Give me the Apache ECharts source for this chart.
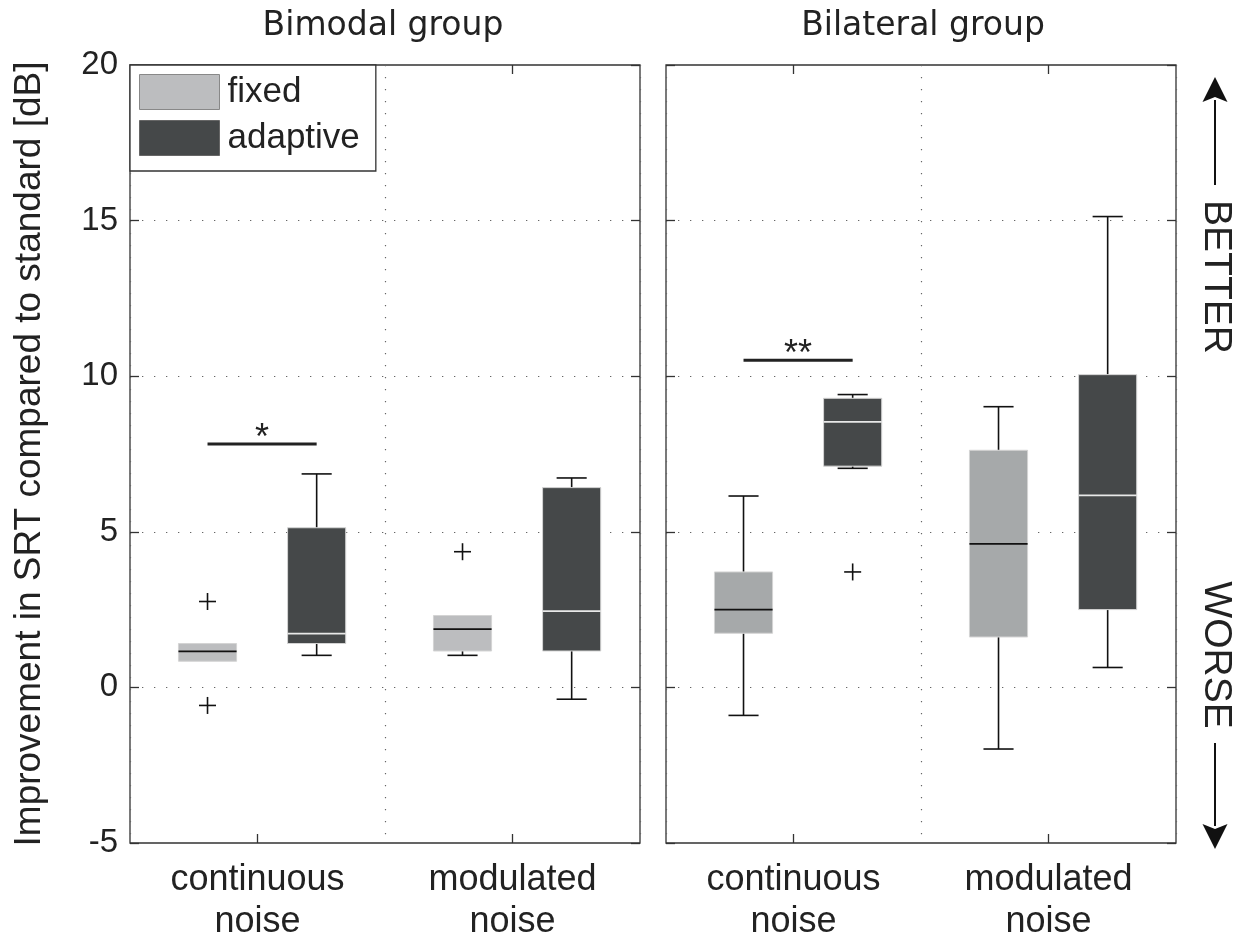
<!DOCTYPE html>
<html>
<head>
<meta charset="utf-8">
<script src="https://cdn.jsdelivr.net/npm/echarts@6/dist/echarts.min.js"></script>
<style>html,body{margin:0;padding:0;background:#fff}#c{width:1236px;height:943px}</style>
</head>
<body>
<div id="c"></div>
<script>
// ---- data ----
const categories = ['continuous\nnoise', 'modulated\nnoise'];
const groupTitles = ['Bimodal group', 'Bilateral group'];
const treatments = ['fixed', 'adaptive'];
const yTicks = [-5, 0, 5, 10, 15, 20];
// [min, q1, median, q3, max] per category
const bimodalFixed = [[0.84, 0.84, 1.16, 1.41, 1.41], [1.03, 1.17, 1.87, 2.31, 2.31]];
const bimodalAdaptive = [[1.03, 1.41, 1.73, 5.13, 6.86], [-0.38, 1.17, 2.45, 6.42, 6.73]];
const bilateralFixed = [[-0.90, 1.74, 2.50, 3.71, 6.15], [-1.98, 1.62, 4.61, 7.62, 9.02]];
const bilateralAdaptive = [[7.04, 7.11, 8.53, 9.29, 9.41], [0.64, 2.50, 6.17, 10.05, 15.13]];
// outliers: [category index, value]
const bimodalFixedOutliers = [[0, 2.76], [0, -0.58], [1, 4.36]];
const bimodalAdaptiveOutliers = [];
const bilateralFixedOutliers = [];
const bilateralAdaptiveOutliers = [[0, 3.71]];
// significance: level of bar, label (continuous noise, fixed vs adaptive)
const bimodalSignif = [7.82];
const bimodalSignifLabel = ['*'];
const bilateralSignif = [10.51];
const bilateralSignifLabel = ['**'];

// ---- style / layout ----
const GRID_TOP = 65, GRID_H = 782, GRID_W = 510;
const GRID_LEFTS = [130, 666];
const OFFSET = { fixed: -0.196, adaptive: 0.232 };
const BOX_W = 0.228;
const CAP_W = 0.118;
const COLORS = {
  fixedL: '#bcbdbf', fixedR: '#a6a9aa', adaptive: '#454849'
};
const FONT = '"Liberation Sans", Arial, sans-serif';

function boxRenderer(offset, fill, medianColor) {
  return function (params, api) {
    const x = api.value(0) + 0.5 + offset;
    const mn = api.value(1), q1 = api.value(2), md = api.value(3), q3 = api.value(4), mx = api.value(5);
    const pMin = api.coord([x, mn]), pQ1 = api.coord([x, q1]), pMd = api.coord([x, md]);
    const pQ3 = api.coord([x, q3]), pMax = api.coord([x, mx]);
    const bw = api.size([BOX_W, 0])[0];
    const cw = api.size([CAP_W, 0])[0];
    const cx = pMd[0];
    const lineStyle = { stroke: '#111', lineWidth: 1.6 };
    const ch = [];
    if (mx > q3) {
      ch.push({ type: 'line', shape: { x1: cx, y1: pQ3[1], x2: cx, y2: pMax[1] }, style: lineStyle });
      ch.push({ type: 'line', shape: { x1: cx - cw / 2, y1: pMax[1], x2: cx + cw / 2, y2: pMax[1] }, style: lineStyle });
    }
    if (mn < q1) {
      ch.push({ type: 'line', shape: { x1: cx, y1: pQ1[1], x2: cx, y2: pMin[1] }, style: lineStyle });
      ch.push({ type: 'line', shape: { x1: cx - cw / 2, y1: pMin[1], x2: cx + cw / 2, y2: pMin[1] }, style: lineStyle });
    }
    ch.push({ type: 'rect', shape: { x: cx - bw / 2, y: pQ3[1], width: bw, height: pQ1[1] - pQ3[1] },
      style: { fill: fill, stroke: '#d4d4d4', lineWidth: 1 } });
    ch.push({ type: 'line', shape: { x1: cx - bw / 2, y1: pMd[1], x2: cx + bw / 2, y2: pMd[1] },
      style: { stroke: medianColor, lineWidth: 1.8 } });
    return { type: 'group', children: ch };
  };
}

function outlierRenderer(offset) {
  return function (params, api) {
    const p = api.coord([api.value(0) + 0.5 + offset, api.value(1)]);
    const h = 8.5;
    return { type: 'group', children: [
      { type: 'line', shape: { x1: p[0] - h, y1: p[1], x2: p[0] + h, y2: p[1] }, style: { stroke: '#111', lineWidth: 1.6 } },
      { type: 'line', shape: { x1: p[0], y1: p[1] - h, x2: p[0], y2: p[1] + h }, style: { stroke: '#111', lineWidth: 1.6 } }
    ] };
  };
}

function signifRenderer(labels) {
  return function (params, api) {
    const y = api.value(0);
    const a = api.coord([0.5 + OFFSET.fixed, y]);
    const b = api.coord([0.5 + OFFSET.adaptive, y]);
    return { type: 'group', children: [
      { type: 'line', shape: { x1: a[0], y1: a[1], x2: b[0], y2: b[1] }, style: { stroke: '#222', lineWidth: 3 } },
      { type: 'text', x: (a[0] + b[0]) / 2, y: a[1] - 5,
        style: { text: labels[params.dataIndex], font: '36px ' + FONT, fill: '#222', textAlign: 'center', textVerticalAlign: 'middle' } }
    ] };
  };
}

function boxData(arr) { return arr.map((v, i) => [i].concat(v)); }

const dotted = { color: '#666', width: 1.2, type: [1.3, 10.7] };

const grids = GRID_LEFTS.map(l => ({ left: l, top: GRID_TOP, width: GRID_W, height: GRID_H,
  show: true, borderColor: '#333', borderWidth: 1.3, backgroundColor: 'transparent' }));

const tickStyle = { show: true, inside: true, alignWithLabel: true, length: 9, lineStyle: { color: '#333', width: 1.3 } };
const xAxes = [];
const yAxes = [];
[0, 1].forEach(g => {
  xAxes.push({ type: 'value', gridIndex: g, min: 0, max: 2, interval: 1, position: 'bottom',
    axisLine: { show: false, onZero: false }, axisTick: { show: false }, axisLabel: { show: false },
    splitLine: { show: true, lineStyle: dotted } });
  xAxes.push({ type: 'category', gridIndex: g, data: categories, position: 'bottom',
    axisLine: { show: false, onZero: false }, axisTick: tickStyle,
    axisLabel: { fontSize: 36, fontFamily: FONT, color: '#222', lineHeight: 42, margin: 16 },
    splitLine: { show: false } });
  xAxes.push({ type: 'category', gridIndex: g, data: categories, position: 'top',
    axisLine: { show: false, onZero: false }, axisTick: tickStyle,
    axisLabel: { show: false }, splitLine: { show: false } });
  yAxes.push({ type: 'value', gridIndex: g, min: -5, max: 20, interval: 5, position: 'left',
    axisLine: { show: false, onZero: false },
    axisTick: { show: true, inside: true, length: 9, lineStyle: { color: '#333', width: 1.3 } },
    axisLabel: { show: g === 0, fontSize: 33, fontFamily: FONT, color: '#222', margin: 12,
      formatter: v => (yTicks.indexOf(v) >= 0 ? String(v) : '') },
    splitLine: { show: true, lineStyle: dotted },
    name: g === 0 ? 'Improvement in SRT compared to standard [dB]' : '',
    nameLocation: 'middle', nameGap: 82, nameRotate: 90,
    nameTextStyle: { fontSize: 37, fontFamily: FONT, color: '#222' } });
  yAxes.push({ type: 'value', gridIndex: g, min: -5, max: 20, interval: 5, position: 'right',
    axisLine: { show: false, onZero: false },
    axisTick: { show: true, inside: true, length: 9, lineStyle: { color: '#333', width: 1.3 } },
    axisLabel: { show: false }, splitLine: { show: false } });
});

const panels = [
  { fixed: bimodalFixed, adaptive: bimodalAdaptive, fo: bimodalFixedOutliers, ao: bimodalAdaptiveOutliers,
    sig: bimodalSignif, sigL: bimodalSignifLabel, fixedColor: COLORS.fixedL },
  { fixed: bilateralFixed, adaptive: bilateralAdaptive, fo: bilateralFixedOutliers, ao: bilateralAdaptiveOutliers,
    sig: bilateralSignif, sigL: bilateralSignifLabel, fixedColor: COLORS.fixedR }
];

const series = [];
panels.forEach((p, g) => {
  const xi = g * 3, yi = g * 2;
  series.push({ name: treatments[0], type: 'custom', xAxisIndex: xi, yAxisIndex: yi,
    itemStyle: { color: COLORS.fixedL }, encode: { x: 0, y: [1, 2, 3, 4, 5] },
    renderItem: boxRenderer(OFFSET.fixed, p.fixedColor, '#111'), data: boxData(p.fixed), z: 3 });
  series.push({ name: treatments[1], type: 'custom', xAxisIndex: xi, yAxisIndex: yi,
    itemStyle: { color: COLORS.adaptive }, encode: { x: 0, y: [1, 2, 3, 4, 5] },
    renderItem: boxRenderer(OFFSET.adaptive, COLORS.adaptive, '#e8e8e8'), data: boxData(p.adaptive), z: 3 });
  series.push({ type: 'custom', xAxisIndex: xi, yAxisIndex: yi, encode: { x: 0, y: 1 },
    renderItem: outlierRenderer(OFFSET.fixed), data: p.fo, z: 4 });
  series.push({ type: 'custom', xAxisIndex: xi, yAxisIndex: yi, encode: { x: 0, y: 1 },
    renderItem: outlierRenderer(OFFSET.adaptive), data: p.ao, z: 4 });
  series.push({ type: 'custom', xAxisIndex: xi, yAxisIndex: yi, encode: { y: 0 },
    renderItem: signifRenderer(p.sigL), data: p.sig.map(v => [v]), z: 4 });
});

function arrowGraphic(x, yTail, yTip) {
  const dir = yTip < yTail ? -1 : 1;
  const headLen = 23, headHalf = 12.5;
  const base = yTip - dir * headLen;
  return [
    { type: 'line', shape: { x1: x, y1: yTail, x2: x, y2: base }, style: { stroke: '#111', lineWidth: 2 } },
    { type: 'polygon', shape: { points: [[x, yTip], [x - headHalf, base - dir * 2], [x, base + dir * 3], [x + headHalf, base - dir * 2]] },
      style: { fill: '#111' } }
  ];
}

const titleStyle = { fontSize: 33, fontWeight: 'normal', fontFamily: '"DejaVu Sans", sans-serif', color: '#222' };
const option = {
  backgroundColor: '#fff',
  animation: false,
  title: [
    { text: groupTitles[0], left: 378, top: 5, textAlign: 'center', textStyle: titleStyle },
    { text: groupTitles[1], left: 918, top: 5, textAlign: 'center', textStyle: titleStyle }
  ],
  legend: {
    data: [
      { name: treatments[0], itemStyle: { color: COLORS.fixedL, borderColor: '#888', borderWidth: 1 } },
      { name: treatments[1], itemStyle: { color: COLORS.adaptive, borderColor: '#666', borderWidth: 1 } }
    ],
    orient: 'vertical', left: 130, top: 65, icon: 'rect',
    itemWidth: 80, itemHeight: 35, itemGap: 10,
    padding: [9, 16, 15, 9],
    backgroundColor: '#fff', borderColor: '#333', borderWidth: 1.3,
    textStyle: { fontSize: 35, fontFamily: FONT, color: '#222', padding: [0, 0, 0, 3] },
    selectedMode: false
  },
  grid: grids,
  xAxis: xAxes,
  yAxis: yAxes,
  series: series,
  graphic: [
    { type: 'text', x: 1216, y: 277, rotation: -Math.PI / 2,
      style: { text: 'BETTER', font: '39px ' + FONT, fill: '#222', textAlign: 'center', textVerticalAlign: 'middle' } },
    { type: 'text', x: 1216, y: 655, rotation: -Math.PI / 2,
      style: { text: 'WORSE', font: '39px ' + FONT, fill: '#222', textAlign: 'center', textVerticalAlign: 'middle' } }
  ].concat(arrowGraphic(1215, 185, 77)).concat(arrowGraphic(1215, 743, 849))
};

const chart = echarts.init(document.getElementById('c'), null, { renderer: 'canvas' });
chart.setOption(option);
</script>
</body>
</html>
